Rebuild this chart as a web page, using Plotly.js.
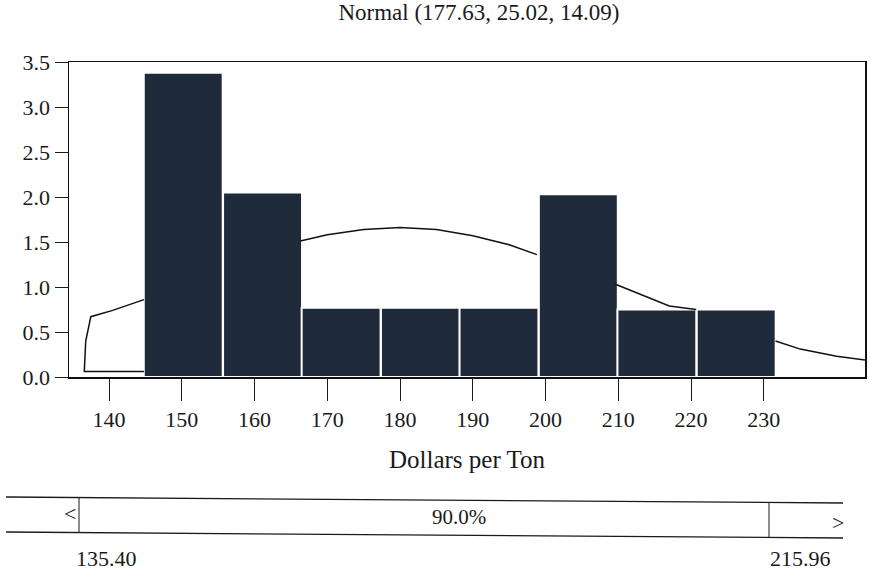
<!DOCTYPE html>
<html>
<head>
<meta charset="utf-8">
<script src="https://cdn.plot.ly/plotly-3.0.1.min.js"></script>
<style>html,body{margin:0;padding:0;background:#fff;}#chart{width:870px;height:573px;}</style>
</head>
<body>
<div id="chart"></div>
<script>
// Histogram bins (Dollars per Ton) and heights
const binCenters = [150.2, 161.1, 171.9, 182.8, 193.6, 204.5, 215.3, 226.2];
const binWidth = 10.85;
const binHeights = [3.38, 2.05, 0.77, 0.77, 0.77, 2.03, 0.75, 0.75];

// Fitted curve, visible pieces only (gaps where hidden behind bars)
const curveX = [144.8, 136.6, 136.8, 137.5, 140.5, 144.8, null, 166.3, 170, 175, 180, 185, 190, 195, 198.8, null, 209.6, 213, 217, 220.7, null, 231.6, 235, 240, 243.9];
const curveY = [0.06, 0.06, 0.40, 0.67, 0.74, 0.86, null, 1.51, 1.58, 1.64, 1.66, 1.64, 1.57, 1.47, 1.36, null, 1.03, 0.92, 0.79, 0.75, null, 0.40, 0.31, 0.23, 0.19];

const xTicks = [140, 150, 160, 170, 180, 190, 200, 210, 220, 230];
const yTicks = [0, 0.5, 1, 1.5, 2, 2.5, 3, 3.5];

const chartTitle = "Normal (177.63, 25.02, 14.09)";
const xTitle = "Dollars per Ton";
const leftPct = "135.40";
const rightPct = "215.96";
const midPct = "90.0%";

const serif = "Liberation Serif, Times New Roman, serif";
const ink = "#1a1a1a";

const traces = [
  {
    type: "bar",
    x: binCenters,
    y: binHeights,
    width: binCenters.map(() => binWidth),
    marker: { color: "#1f2b3a", line: { color: "#ffffff", width: 2 } },
    hoverinfo: "skip"
  },
  {
    type: "scatter",
    mode: "lines",
    x: curveX,
    y: curveY,
    connectgaps: false,
    line: { color: "#111111", width: 1.5 },
    hoverinfo: "skip"
  }
];

const xp = px => (px - 69) / 796;
const yp = py => (377 - py) / 315;
const txt = (px, py, text, size) => ({
  xref: "paper", yref: "paper", x: xp(px), y: yp(py), text: text,
  xanchor: "center", yanchor: "middle", showarrow: false,
  font: { family: serif, size: size, color: ink }
});

const layout = {
  width: 870,
  height: 573,
  margin: { l: 69, r: 5, t: 62, b: 196 },
  paper_bgcolor: "#ffffff",
  plot_bgcolor: "#ffffff",
  showlegend: false,
  bargap: 0,
  font: { family: serif, color: ink, size: 22 },
  title: {
    text: chartTitle,
    font: { family: serif, size: 23, color: ink },
    x: xp(479), xref: "paper", xanchor: "center",
    y: 1 - 12 / 573, yref: "container", yanchor: "middle"
  },
  xaxis: {
    range: [134.5, 243.9],
    tickmode: "array",
    tickvals: xTicks,
    ticktext: xTicks.map(String),
    ticks: "outside",
    ticklen: 22,
    tickwidth: 1,
    tickcolor: ink,
    showline: true,
    linecolor: "#111",
    linewidth: 1.5,
    mirror: true,
    showgrid: false,
    zeroline: false,
    tickfont: { family: serif, size: 22, color: ink },
    title: { text: xTitle, font: { family: serif, size: 25, color: ink }, standoff: 19 }
  },
  yaxis: {
    range: [0, 3.5],
    tickmode: "array",
    tickvals: yTicks,
    ticktext: yTicks.map(v => v.toFixed(1)),
    ticks: "outside",
    ticklen: 13,
    tickwidth: 1,
    tickcolor: ink,
    showline: true,
    linecolor: "#111",
    linewidth: 1.5,
    mirror: true,
    showgrid: false,
    zeroline: false,
    tickfont: { family: serif, size: 22, color: ink }
  },
  shapes: [
    { type: "line", xref: "paper", yref: "paper", x0: xp(6), x1: xp(843), y0: yp(497), y1: yp(503), line: { color: ink, width: 1.3 } },
    { type: "line", xref: "paper", yref: "paper", x0: xp(6), x1: xp(843), y0: yp(532), y1: yp(538), line: { color: ink, width: 1.3 } },
    { type: "line", xref: "paper", yref: "paper", x0: xp(79), x1: xp(79), y0: yp(498), y1: yp(533), line: { color: ink, width: 1 } },
    { type: "line", xref: "paper", yref: "paper", x0: xp(769), x1: xp(769), y0: yp(502), y1: yp(537), line: { color: ink, width: 1 } }
  ],
  annotations: [
    txt(70, 513, "<", 22),
    txt(838, 522, ">", 22),
    txt(459, 517, midPct, 21),
    txt(106, 558, leftPct, 22),
    txt(800, 558, rightPct, 22)
  ]
};

Plotly.newPlot("chart", traces, layout, { displayModeBar: false, staticPlot: true });
</script>
</body>
</html>
